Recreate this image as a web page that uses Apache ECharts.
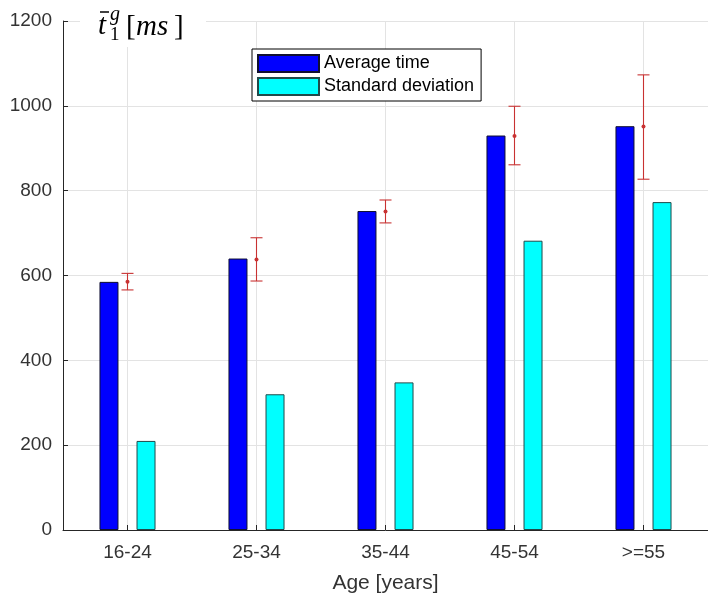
<!DOCTYPE html>
<html>
<head>
<meta charset="utf-8">
<script src="https://cdn.jsdelivr.net/npm/echarts@6/dist/echarts.min.js"></script>
<style>html,body{margin:0;padding:0;background:#fff;}#c{width:708px;height:599px;}</style>
</head>
<body>
<div id="c"></div>
<script>
const categories = ['16-24', '25-34', '35-44', '45-54', '>=55'];
const averageTime = [585, 640, 752, 930, 952];
const standardDeviation = [210, 320, 348, 682, 773];
const errMean = [585, 638, 751, 929, 951];
const errLow = [566, 587, 724, 861, 827];
const errHigh = [605, 689, 778, 999, 1073];
const yTicks = [0, 200, 400, 600, 800, 1000, 1200];

const sans = 'Liberation Sans, Arial, Helvetica, sans-serif';
const serif = 'Liberation Serif, DejaVu Serif, serif';
const red = '#c83232';

const chart = echarts.init(document.getElementById('c'), null, {renderer: 'canvas'});
chart.setOption({
  animation: false,
  backgroundColor: '#ffffff',
  grid: {left: 63, top: 21, width: 654, bottom: 63, containLabel: false},
  legend: {
    data: ['Average time', 'Standard deviation'],
    orient: 'vertical',
    left: 252, top: 49,
    itemWidth: 61, itemHeight: 17, itemGap: 4, itemTextGap: 5,
    padding: [5, 7, 5, 5],
    borderColor: '#000', borderWidth: 1,
    backgroundColor: '#fff',
    icon: 'rect',
    selectedMode: false,
    textStyle: {fontFamily: sans, fontSize: 18, color: '#000'}
  },
  xAxis: {
    type: 'category',
    data: categories,
    name: 'Age [years]',
    nameLocation: 'middle',
    nameGap: 43,
    nameTextStyle: {fontFamily: sans, fontSize: 21, color: '#333'},
    axisLine: {show: true, lineStyle: {color: '#262626', width: 1}},
    axisTick: {show: true, inside: true, length: 5, alignWithLabel: true, lineStyle: {color: '#262626'}},
    axisLabel: {fontFamily: sans, fontSize: 19, color: '#333', margin: 13},
    splitLine: {show: true, alignWithLabel: true, lineStyle: {color: '#e3e3e3', width: 1}}
  },
  yAxis: {
    type: 'value',
    min: yTicks[0], max: yTicks[yTicks.length - 1], interval: 200,
    axisLine: {show: true, lineStyle: {color: '#262626', width: 1}},
    axisTick: {show: true, inside: true, length: 5, lineStyle: {color: '#262626'}},
    axisLabel: {fontFamily: sans, fontSize: 19, color: '#333', margin: 11, formatter: v => String(v)},
    splitLine: {show: true, lineStyle: {color: '#e3e3e3', width: 1}}
  },
  series: [
    {
      name: 'Average time', type: 'bar', data: averageTime,
      barWidth: 19, barGap: '95%',
      itemStyle: {color: '#0000ff', borderColor: '#101030', borderWidth: 1}
    },
    {
      name: 'Standard deviation', type: 'bar', data: standardDeviation,
      barWidth: 19, barGap: '95%',
      itemStyle: {color: '#00ffff', borderColor: '#204a4a', borderWidth: 1}
    },
    {
      name: 'err', type: 'custom', z: 10,
      data: categories.map((c, i) => [i, errLow[i], errHigh[i], errMean[i]]),
      encode: {x: 0, y: [1, 2]},
      renderItem: function (params, api) {
        const x = api.value(0);
        const lo = api.coord([x, api.value(1)]);
        const hi = api.coord([x, api.value(2)]);
        const m = api.coord([x, api.value(3)]);
        const hw = 6;
        const st = {stroke: red, lineWidth: 1.1};
        return {type: 'group', children: [
          {type: 'line', shape: {x1: lo[0], y1: lo[1], x2: hi[0], y2: hi[1]}, style: st},
          {type: 'line', shape: {x1: lo[0] - hw, y1: lo[1], x2: lo[0] + hw, y2: lo[1]}, style: st},
          {type: 'line', shape: {x1: hi[0] - hw, y1: hi[1], x2: hi[0] + hw, y2: hi[1]}, style: st},
          {type: 'circle', shape: {cx: m[0], cy: m[1], r: 2}, style: {fill: red}}
        ]};
      }
    }
  ],
  graphic: [
    {type: 'rect', left: 80, top: 3, shape: {width: 126, height: 44}, style: {fill: '#fff'}, z: 50},
    {type: 'text', x: 98, y: 26, z: 60, style: {text: 't', font: 'italic 29px ' + serif, fill: '#000', verticalAlign: 'middle'}},
    {type: 'line', z: 60, shape: {x1: 100, y1: 12, x2: 109, y2: 12}, style: {stroke: '#000', lineWidth: 1.5}},
    {type: 'text', x: 110, y: 15, z: 60, style: {text: 'g', font: 'italic 20px ' + serif, fill: '#000', verticalAlign: 'middle'}},
    {type: 'text', x: 110, y: 35, z: 60, style: {text: '1', font: '19px ' + serif, fill: '#000', verticalAlign: 'middle'}},
    {type: 'text', x: 126, y: 27, z: 60, style: {text: '[', font: '29px ' + serif, fill: '#000', verticalAlign: 'middle'}},
    {type: 'text', x: 136, y: 27, z: 60, style: {text: 'ms', font: 'italic 29px ' + serif, fill: '#000', verticalAlign: 'middle'}},
    {type: 'text', x: 174, y: 27, z: 60, style: {text: ']', font: '29px ' + serif, fill: '#000', verticalAlign: 'middle'}}
  ]
});
</script>
</body>
</html>
